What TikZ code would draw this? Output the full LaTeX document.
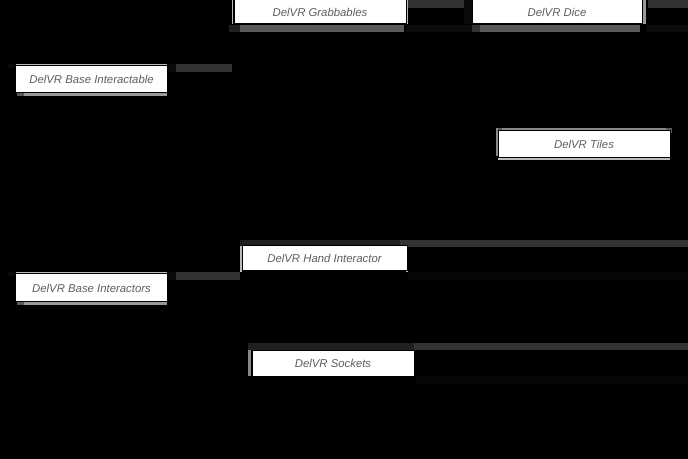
\documentclass[tikz,border=0pt]{standalone}
\usepackage{fontspec}
\setmainfont{Liberation Sans}
\definecolor{txtgray}{HTML}{5E5E5E}
\definecolor{barA}{HTML}{333333}
\definecolor{barB}{HTML}{0B0B0B}
\definecolor{barC}{HTML}{5A5A5A}
\definecolor{barD}{HTML}{999999}
\definecolor{barE}{HTML}{BBBBBB}
\definecolor{barF}{HTML}{202020}
\definecolor{barG}{HTML}{888888}
\definecolor{barH}{HTML}{070707}
\begin{document}
\begin{tikzpicture}[x=1bp,y=-1bp,
  classbox/.style={draw=black,line width=1bp,fill=white,inner sep=0pt,
    font=\fontsize{11.4}{13}\selectfont\itshape,text=txtgray}]
\fill[black] (0,0) rectangle (688,459);
\useasboundingbox (0,0) rectangle (688,459);
% --- accent bars (background shapes) ---
% Grabbables / Dice row
\fill[barE] (231.5,0) rectangle (233,24);
\fill[barF] (229,25) rectangle (240,32);
\fill[barC] (240,25) rectangle (404,32);
\fill[barE] (405,0) rectangle (407.5,24);
\fill[barA] (408,0) rectangle (464,8);
\fill[barB] (464,0) rectangle (472,24);
\fill[barB] (406,25) rectangle (472,32);
\fill[barA] (472,25) rectangle (480,32);
\fill[barC] (480,25) rectangle (640,32);
\fill[barD] (642.5,0) rectangle (646,24);
\fill[barA] (648,0) rectangle (688,8);
\fill[barB] (646,25) rectangle (688,32);
% Base Interactable
\fill[barB] (8,64) rectangle (16,68);
\fill[barE] (16,64) rectangle (167,66);
\fill[barC] (17,93) rectangle (24,96);
\fill[barD] (24,93) rectangle (167,96);
\fill[barB] (167,64) rectangle (176,72);
\fill[barA] (176,64) rectangle (232,72);
% Tiles
\fill[barG] (496,128) rectangle (672,133);
\fill[barC] (496,128) rectangle (502,133);
\fill[barC] (666,128) rectangle (672,133);
\fill[barG] (495.5,128) rectangle (498,156);
\fill[barE] (498,158) rectangle (670,160);
% Hand Interactor
\fill[barF] (240,240) rectangle (400,246);
\fill[barA] (400,240) rectangle (688,247);
\fill[barE] (240,246) rectangle (242,272);
\fill[barE] (406,246) rectangle (408,272);
\fill[barH] (408,272) rectangle (688,280);
% Base Interactors
\fill[barB] (8,272) rectangle (16,276);
\fill[barE] (16,272) rectangle (167,274);
\fill[barC] (17,302) rectangle (24,305);
\fill[barD] (24,302) rectangle (167,305);
\fill[barB] (167,272) rectangle (176,280);
\fill[barA] (176,272) rectangle (240,280);
% Sockets
\fill[barF] (248,343) rectangle (414,350);
\fill[barA] (414,343) rectangle (688,350);
\fill[barG] (248,350) rectangle (251,376);
\fill[barH] (416,376) rectangle (688,384);
% --- class boxes ---
\node[classbox,minimum width=172bp,minimum height=24bp] (grab) at (320,12) {DelVR Grabbables};
\node[classbox,minimum width=170bp,minimum height=24bp] (dice) at (557,12) {DelVR Dice};
\node[classbox,minimum width=151bp,minimum height=27bp] (bint) at (91.5,79.5) {DelVR Base Interactable};
\node[classbox,minimum width=172bp,minimum height=27bp] (tiles) at (584,144.5) {DelVR Tiles};
\node[classbox,minimum width=165bp,minimum height=25bp] (hand) at (324.5,258.5) {DelVR Hand Interactor};
\node[classbox,minimum width=151bp,minimum height=28bp] (bintr) at (91.5,288) {DelVR Base Interactors};
\node[classbox,minimum width=162bp,minimum height=26bp] (sock) at (333,363) {DelVR Sockets};
\end{tikzpicture}
\end{document}
